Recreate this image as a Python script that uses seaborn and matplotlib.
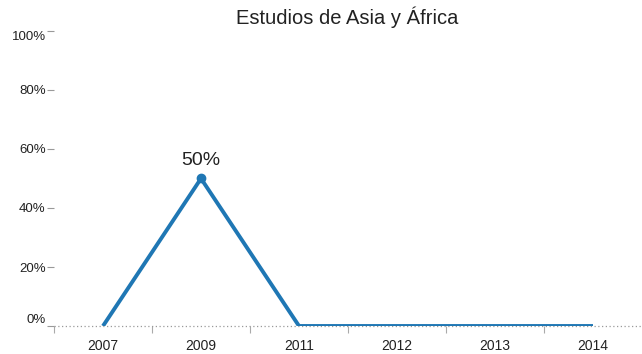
import matplotlib
matplotlib.use("Agg")
import matplotlib.pyplot as plt
import seaborn as sns
import pandas as pd

years = ["2007", "2009", "2011", "2012", "2013", "2014"]
share = [0.0, 0.5, 0.0, 0.0, 0.0, 0.0]
y_ticks = [0.0, 0.2, 0.4, 0.6, 0.8, 1.0]
y_labels = ["0%", "20%", "40%", "60%", "80%", "100%"]
title = "Estudios de Asia y África"
peak_label = "50%"

sns.set_style("white")
plt.rcParams["font.family"] = ["Liberation Sans", "DejaVu Sans"]

df = pd.DataFrame({"year": years, "share": share, "pos": range(len(years))})

fig = plt.figure(figsize=(6.42, 3.54), dpi=100)
ax = fig.add_axes([54 / 642, 28 / 354, 1 - 54 / 642, 295 / 354])

line_color = "#1f77b4"
sns.lineplot(data=df, x="pos", y="share", ax=ax, color=line_color,
             linewidth=2.8, solid_capstyle="butt", solid_joinstyle="round")

# dot and label on the highest value
peak = max(range(len(share)), key=lambda i: share[i])
ax.plot([peak], [share[peak]], "o", color=line_color, markersize=6, zorder=5)
ax.annotate(peak_label, (peak, share[peak]), xytext=(0, 7),
            textcoords="offset points", ha="center", va="bottom",
            fontsize=14, color="#222222")

ax.set_xlim(-0.5, 5.5)
ax.set_ylim(0, 1)

for s in ax.spines.values():
    s.set_visible(False)

# dotted baseline
ax.axhline(0, color="#9a9a9a", linestyle=(0, (1, 2)), linewidth=0.9, zorder=1,
           clip_on=False)

# x axis: labels at categories, tick marks at band edges
ax.set_xticks(range(len(years)))
ax.set_xticklabels(years, fontsize=10, color="#222222")
ax.set_xticks([i - 0.5 for i in range(len(years))], minor=True)
ax.tick_params(axis="x", which="both", bottom=True)
ax.tick_params(axis="x", which="major", length=0, pad=9)
ax.tick_params(axis="x", which="minor", length=5, width=0.8, color="#aaaaaa",
               direction="out", pad=0)

ax.set_yticks(y_ticks)
ax.set_yticklabels(y_labels, fontsize=9.5, color="#222222")
ax.tick_params(axis="y", left=True, length=5, width=0.8, color="#999999",
               direction="out", pad=1)
ylabs = ax.get_yticklabels()
ylabs[0].set_verticalalignment("bottom")
ylabs[-1].set_verticalalignment("top")

ax.set_xlabel("")
ax.set_ylabel("")
ax.grid(False)

fig.text(347 / 642, 1 - 17 / 354, title, ha="center", va="center",
         fontsize=14.5, color="#222222")

fig.savefig("out.png", dpi=100)
